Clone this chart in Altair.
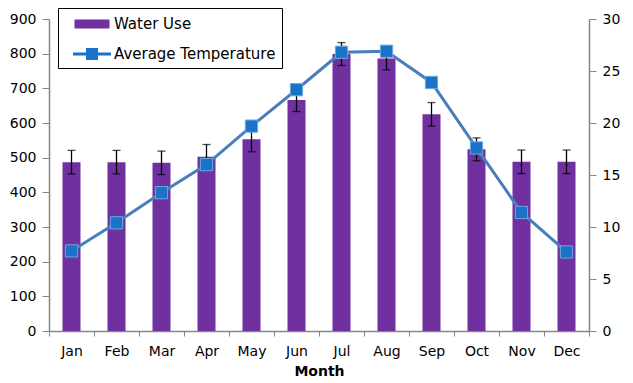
import altair as alt
import pandas as pd

months = ["Jan", "Feb", "Mar", "Apr", "May", "Jun", "Jul", "Aug", "Sep", "Oct", "Nov", "Dec"]
water_use = [487, 487, 485, 503, 553, 666, 799, 786, 625, 524, 488, 488]
water_err = [34, 34, 34, 35, 36, 33, 33, 33, 34, 33, 34, 34]
avg_temp = [7.7, 10.4, 13.3, 16.0, 19.7, 23.2, 26.8, 26.9, 23.9, 17.6, 11.4, 7.6]
series_names = ["Water Use", "Average Temperature"]

FONT = "DejaVu Sans"
AXIS_GRAY = "#868686"
PURPLE = "#7030A0"
LINE_BLUE = "#4A7EBB"
MARKER_BLUE = "#1A73C9"

df = pd.DataFrame({
    "Month": months,
    "WaterUse": water_use,
    "Lower": [v - e for v, e in zip(water_use, water_err)],
    "Upper": [v + e for v, e in zip(water_use, water_err)],
    "Temp": avg_temp,
})
leg_df = pd.DataFrame({"Series": series_names})

x_axis = alt.Axis(title="Month", labelAngle=0, tickBand="extent",
                  titleFontWeight="bold", titleFontSize=14,
                  titlePadding=6, labelPadding=8)
x_scale = alt.Scale(paddingInner=0, paddingOuter=0)


def xe():
    return alt.X("Month:N", sort=months, scale=x_scale, axis=x_axis)


y_left = alt.Scale(domain=[0, 900])
left_axis = alt.Axis(values=list(range(0, 901, 100)), title=None, orient="left",
                     labelPadding=6, tickSize=7, labelOverlap=False)
y_right = alt.Scale(domain=[0, 30])
right_axis = alt.Axis(values=list(range(0, 31, 5)), title=None, orient="right",
                      labelPadding=6, tickSize=7, labelOverlap=False)

bars = alt.Chart(df).mark_bar(color=PURPLE, size=18).encode(
    x=xe(),
    y=alt.Y("WaterUse:Q", scale=y_left, axis=left_axis),
)
err_rule = alt.Chart(df).mark_rule(color="black", strokeWidth=1.3).encode(
    x=xe(),
    y=alt.Y("Lower:Q", scale=y_left, axis=left_axis),
    y2="Upper:Q",
)
cap_lo = alt.Chart(df).mark_tick(color="black", thickness=1.3, size=8).encode(
    x=xe(),
    y=alt.Y("Lower:Q", scale=y_left, axis=left_axis),
)
cap_hi = alt.Chart(df).mark_tick(color="black", thickness=1.3, size=8).encode(
    x=xe(),
    y=alt.Y("Upper:Q", scale=y_left, axis=left_axis),
)

bar_sym = "M-1.75,-0.45H1.75V0.45H-1.75Z"
line_sym = "M-1.9,-0.14H-0.6V-0.6H0.6V-0.14H1.9V0.14H0.6V0.6H-0.6V0.14H-1.9Z"

legend_layer = alt.Chart(leg_df).mark_point(filled=True, opacity=1).encode(
    color=alt.Color("Series:N",
                    scale=alt.Scale(domain=series_names, range=[PURPLE, MARKER_BLUE]),
                    legend=alt.Legend(title=None, orient="none", legendX=9, legendY=-11,
                                      padding=6, strokeColor="black", fillColor="white",
                                      symbolSize=400, symbolStrokeWidth=0,
                                      symbolOpacity=1, symbolOffset=18,
                                      labelOffset=12, rowPadding=12, labelLimit=400,
                                      labelFontSize=15, labelFont=FONT,
                                      labelColor="black")),
    shape=alt.Shape("Series:N",
                    scale=alt.Scale(domain=series_names, range=[bar_sym, line_sym]),
                    legend=alt.Legend(title=None, orient="none", legendX=9, legendY=-11)),
).transform_filter("false")

left = alt.layer(bars, err_rule, cap_lo, cap_hi, legend_layer)

line = alt.Chart(df).mark_line(color=LINE_BLUE, strokeWidth=3).encode(
    x=xe(),
    y=alt.Y("Temp:Q", scale=y_right, axis=right_axis),
)
pts = alt.Chart(df).mark_point(shape="square", filled=True, size=150, opacity=1,
                               fill=MARKER_BLUE, stroke="#6FA8DC", strokeWidth=1).encode(
    x=xe(),
    y=alt.Y("Temp:Q", scale=y_right, axis=right_axis),
)
right = alt.layer(line, pts)

chart = alt.layer(left, right).resolve_scale(y="independent").properties(
    width=540, height=312,
    autosize=alt.AutoSizeParams(type="none"),
    padding={"left": 41, "top": 11, "right": 36, "bottom": 48},
).configure_view(stroke=None).configure_axis(
    grid=False, domainColor=AXIS_GRAY, domainWidth=1.5, tickColor=AXIS_GRAY,
    tickWidth=1, labelFont=FONT, labelFontSize=14, labelColor="black",
    titleFont=FONT, titleColor="black",
).configure_legend(labelFont=FONT)

chart.save("out.html", embed_options={"renderer": "svg", "actions": False})
